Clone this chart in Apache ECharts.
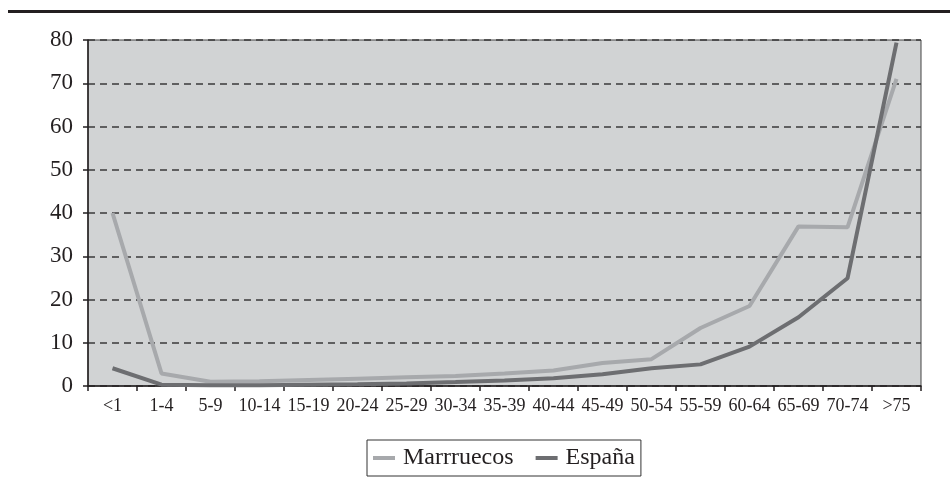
<!DOCTYPE html>
<html>
<head>
<meta charset="utf-8">
<script src="https://cdn.jsdelivr.net/npm/echarts@6/dist/echarts.min.js"></script>
<style>
html,body{margin:0;padding:0;background:#fff;}
#chart{width:950px;height:491px;}
</style>
</head>
<body>
<div id="chart"></div>
<script>
const categories = ['<1','1-4','5-9','10-14','15-19','20-24','25-29','30-34','35-39','40-44','45-49','50-54','55-59','60-64','65-69','70-74','>75'];
const marruecos = [40, 2.9, 1.0, 1.1, 1.4, 1.7, 2.0, 2.3, 2.9, 3.6, 5.3, 6.2, 13.4, 18.5, 36.9, 36.7, 71];
const espana = [4.1, 0.3, 0.2, 0.2, 0.3, 0.4, 0.6, 0.9, 1.3, 1.8, 2.7, 4.1, 5.0, 9.1, 15.9, 24.9, 79.4];
const seriesNames = ['Marrruecos', 'España'];

const FONT = '"Liberation Serif", "DejaVu Serif", serif';
const chart = echarts.init(document.getElementById('chart'), null, {renderer: 'canvas'});
chart.setOption({
  animation: false,
  backgroundColor: '#ffffff',
  textStyle: {fontFamily: FONT, color: '#231f20'},
  graphic: [{
    type: 'line', silent: true,
    shape: {x1: 8, y1: 11.5, x2: 950, y2: 11.5},
    style: {stroke: '#231f20', lineWidth: 3}
  }],
  grid: {
    left: 88, right: 29, top: 40, bottom: 105,
    show: true, backgroundColor: '#d1d3d4', borderColor: '#444', borderWidth: 1
  },
  legend: {
    data: seriesNames,
    left: 367, top: 440,
    padding: [5, 6, 5, 6],
    borderColor: '#333', borderWidth: 1,
    itemGap: 22, itemWidth: 22, itemHeight: 4,
    icon: 'rect',
    textStyle: {fontFamily: FONT, fontSize: 24, color: '#231f20', lineHeight: 26, padding: [0, 0, 0, 3]}
  },
  xAxis: {
    type: 'category', data: categories, boundaryGap: true,
    axisLine: {show: true, lineStyle: {color: '#231f20', width: 1.5}},
    axisTick: {show: true, length: 5, inside: false, lineStyle: {color: '#231f20', width: 1.5}},
    axisLabel: {interval: 0, margin: 11, fontFamily: FONT, fontSize: 18, color: '#231f20'},
    splitLine: {show: false}
  },
  yAxis: {
    type: 'value', min: 0, max: 80, interval: 10,
    axisLine: {show: true, lineStyle: {color: '#231f20', width: 1.5}},
    axisTick: {show: true, length: 5, lineStyle: {color: '#231f20', width: 1.5}},
    axisLabel: {margin: 15, fontFamily: FONT, fontSize: 23, color: '#231f20'},
    splitLine: {show: true, lineStyle: {color: '#3a3a3a', width: 1.5, type: [7, 5]}}
  },
  series: [
    {name: seriesNames[0], type: 'line', data: marruecos, symbol: 'none',
     lineStyle: {color: '#a7a9ac', width: 4}, itemStyle: {color: '#a7a9ac'}},
    {name: seriesNames[1], type: 'line', data: espana, symbol: 'none',
     lineStyle: {color: '#6d6e71', width: 4}, itemStyle: {color: '#6d6e71'}}
  ]
});
</script>
</body>
</html>
